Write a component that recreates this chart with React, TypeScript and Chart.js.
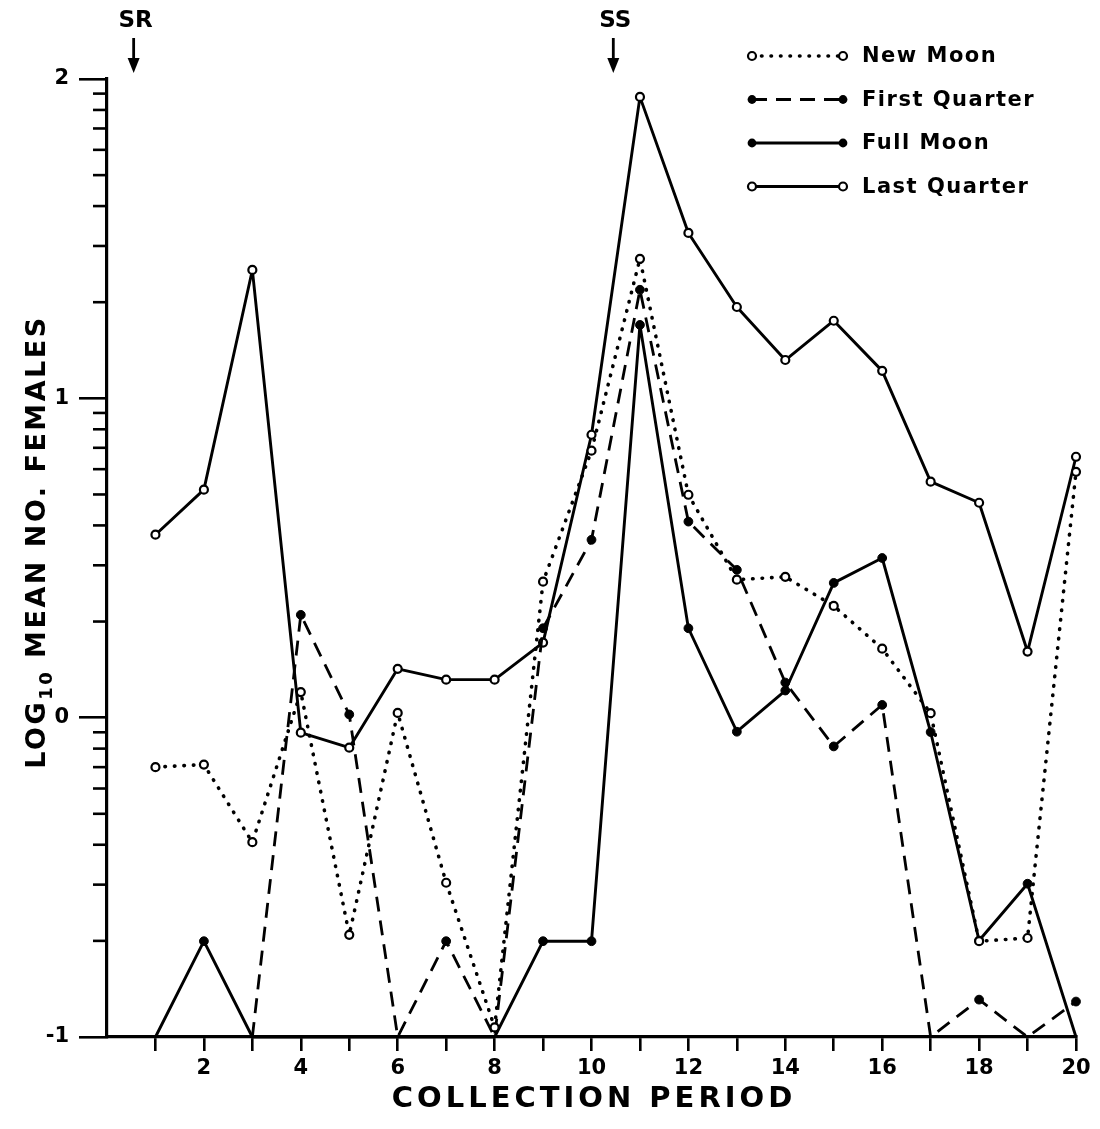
import React, { useEffect, useRef } from "react";
import { Chart, registerables } from "chart.js";

Chart.register(...registerables);

// Collection periods through one day (SR = sunrise, SS = sunset)
const periods = [1, 2, 3, 4, 5, 6, 7, 8, 9, 10, 11, 12, 13, 14, 15, 16, 17, 18, 19, 20];

// log10 of the mean number of females caught per period, by lunar phase
const newMoon = [-0.155, -0.147, -0.39, 0.08, -0.68, 0.015, -0.517, -0.97, 0.426, 0.836, 1.437, 0.698, 0.432, 0.441, 0.35, 0.216, 0.014, -0.7, -0.69, 0.77];
const firstQuarter = [null, null, -1, 0.322, 0.01, -1, -0.7, -1, 0.28, 0.557, 1.34, 0.614, 0.463, 0.11, -0.09, 0.04, -1, -0.883, -1, -0.889];
const fullMoon = [-1, -0.7, -1, -1, -1, -1, -1, -1, -0.7, -0.7, 1.23, 0.28, -0.044, 0.085, 0.422, 0.5, -0.045, -0.698, -0.52, -1];
const lastQuarter = [0.573, 0.714, 1.402, -0.047, -0.094, 0.153, 0.119, 0.119, 0.235, 0.886, 1.944, 1.518, 1.286, 1.12, 1.243, 1.086, 0.739, 0.673, 0.207, 0.817];

const seriesNames = ["New Moon", "First Quarter", "Full Moon", "Last Quarter"];

// Decade marks on the log axis
const yMajorTicks = [-1, 0, 1, 2];
const xTickValues = periods;

// Sunrise / sunset markers above the plot
const eventLabels = ["SR", "SS"];
const eventPeriods = [0.55, 10.45];

const FONT = '"DejaVu Sans", "Liberation Sans", sans-serif';
const INK = "#000";

type Style = {
  dash: number[];
  width: number;
  cap: CanvasLineCap;
  open: boolean;
  radius: number;
};

const styles: Style[] = [
  { dash: [0.5, 9], width: 3.6, cap: "round", open: true, radius: 4 },
  { dash: [15, 9], width: 2.8, cap: "butt", open: false, radius: 4.4 },
  { dash: [], width: 2.9, cap: "butt", open: false, radius: 4.4 },
  { dash: [], width: 2.9, cap: "butt", open: true, radius: 4 },
];

const seriesValues = [newMoon, firstQuarter, fullMoon, lastQuarter];

function toPoints(values: (number | null)[]) {
  return periods.map((p, i) => ({ x: p, y: values[i] }));
}

function drawMarker(ctx: CanvasRenderingContext2D, x: number, y: number, s: Style) {
  ctx.save();
  ctx.setLineDash([]);
  ctx.beginPath();
  ctx.arc(x, y, s.radius, 0, Math.PI * 2);
  if (s.open) {
    ctx.fillStyle = "#fff";
    ctx.fill();
    ctx.lineWidth = 2.2;
    ctx.strokeStyle = INK;
    ctx.stroke();
  } else {
    ctx.fillStyle = INK;
    ctx.fill();
  }
  ctx.restore();
}

const decorPlugin = {
  id: "moonDecor",
  afterDraw(chart: any) {
    const ctx: CanvasRenderingContext2D = chart.ctx;
    const xs = chart.scales.x;
    const ys = chart.scales.y;
    const left = chart.chartArea.left;

    ctx.save();
    ctx.strokeStyle = INK;
    ctx.fillStyle = INK;

    // minor log ticks (2..9 within each decade)
    ctx.lineWidth = 2.6;
    for (let d = -1; d < 2; d++) {
      for (let k = 2; k <= 9; k++) {
        const py = ys.getPixelForValue(d + Math.log10(k));
        ctx.beginPath();
        ctx.moveTo(left - 14, py);
        ctx.lineTo(left, py);
        ctx.stroke();
      }
    }

    // legend
    const lx0 = 752;
    const lx1 = 843;
    seriesNames.forEach((name, i) => {
      const s = styles[i];
      const ry = 56 + i * 43.5;
      ctx.save();
      ctx.lineWidth = s.width;
      ctx.lineCap = s.cap;
      ctx.setLineDash(s.dash);
      ctx.beginPath();
      ctx.moveTo(lx0, ry);
      ctx.lineTo(lx1, ry);
      ctx.stroke();
      ctx.restore();
      drawMarker(ctx, lx0, ry, s);
      drawMarker(ctx, lx1, ry, s);
      ctx.save();
      ctx.font = `bold 21px ${FONT}`;
      (ctx as any).letterSpacing = "1.5px";
      ctx.textAlign = "left";
      ctx.textBaseline = "middle";
      ctx.fillText(name, 862, ry + 1);
      ctx.restore();
    });

    // SR / SS arrows
    eventLabels.forEach((label, i) => {
      const px = xs.getPixelForValue(eventPeriods[i]);
      ctx.save();
      ctx.font = `bold 23px ${FONT}`;
      (ctx as any).letterSpacing = "0px";
      ctx.textAlign = "center";
      ctx.textBaseline = "middle";
      ctx.fillText(label, px + 2, 21);
      ctx.restore();
      ctx.lineWidth = 2.8;
      ctx.beginPath();
      ctx.moveTo(px, 38);
      ctx.lineTo(px, 62);
      ctx.stroke();
      ctx.beginPath();
      ctx.moveTo(px - 6, 58);
      ctx.lineTo(px + 6, 58);
      ctx.lineTo(px, 73);
      ctx.closePath();
      ctx.fill();
    });

    // y axis title with subscript
    ctx.save();
    ctx.translate(38, 542);
    ctx.rotate(-Math.PI / 2);
    ctx.textBaseline = "middle";
    ctx.textAlign = "left";
    const big = `bold 27px ${FONT}`;
    const small = `bold 18px ${FONT}`;
    const parts: [string, string, number][] = [
      ["LOG", big, 0],
      ["10", small, 9],
      [" MEAN NO. FEMALES", big, 0],
    ];
    let total = 0;
    const widths: number[] = [];
    parts.forEach(([t, f]) => {
      ctx.font = f;
      (ctx as any).letterSpacing = "2.5px";
      const w = ctx.measureText(t).width;
      widths.push(w);
      total += w;
    });
    let cx = -total / 2;
    parts.forEach(([t, f, dy], i) => {
      ctx.font = f;
      (ctx as any).letterSpacing = "2.5px";
      ctx.fillText(t, cx, dy);
      cx += widths[i];
    });
    ctx.restore();

    // x axis title
    ctx.save();
    ctx.font = `bold 29px ${FONT}`;
    (ctx as any).letterSpacing = "4px";
    ctx.textAlign = "center";
    ctx.textBaseline = "middle";
    ctx.fillText("COLLECTION PERIOD", 594, 1099);
    ctx.restore();

    ctx.restore();
  },
};

export default function App() {
  const canvasRef = useRef<HTMLCanvasElement | null>(null);

  useEffect(() => {
    const canvas = canvasRef.current;
    if (!canvas) return;

    const datasets = seriesNames.map((name, i) => {
      const s = styles[i];
      return {
        label: name,
        data: toPoints(seriesValues[i]),
        borderColor: INK,
        borderWidth: s.width,
        borderDash: s.dash,
        borderCapStyle: s.cap,
        borderJoinStyle: "round" as CanvasLineJoin,
        tension: 0,
        spanGaps: false,
        clip: false as any,
        pointStyle: "circle" as const,
        pointRadius: (c: any) => (c.raw && c.raw.y === -1 ? 0 : s.radius),
        pointHoverRadius: s.radius,
        pointBackgroundColor: s.open ? "#fff" : INK,
        pointBorderColor: INK,
        pointBorderWidth: s.open ? 2.2 : 1,
      };
    });

    const chart = new Chart(canvas, {
      type: "line",
      data: { datasets },
      options: {
        responsive: false,
        animation: false,
        devicePixelRatio: 1,
        layout: { padding: { left: 0, right: 24, top: 79, bottom: 0 } },
        plugins: {
          legend: { display: false },
          tooltip: { enabled: false },
          title: { display: false },
        },
        scales: {
          x: {
            type: "linear",
            min: 0,
            max: 20,
            afterFit: (s: any) => {
              s.height = 92;
            },
            afterBuildTicks: (s: any) => {
              s.ticks = xTickValues.map((v) => ({ value: v }));
            },
            grid: {
              drawOnChartArea: false,
              drawTicks: true,
              tickLength: 14,
              lineWidth: 2.6,
              color: INK,
            },
            border: { display: true, color: INK, width: 3.2 },
            ticks: {
              autoSkip: false,
              maxRotation: 0,
              padding: 5,
              color: INK,
              font: { family: FONT, size: 21, weight: "bold" },
              callback: (v: any) => (Number(v) % 2 === 0 ? String(v) : ""),
            },
          },
          y: {
            type: "linear",
            min: -1,
            max: 2,
            afterFit: (s: any) => {
              s.width = 107;
            },
            afterBuildTicks: (s: any) => {
              s.ticks = yMajorTicks.map((v) => ({ value: v }));
            },
            grid: {
              drawOnChartArea: false,
              drawTicks: true,
              tickLength: 28,
              lineWidth: 2.6,
              color: INK,
            },
            border: { display: true, color: INK, width: 3.2 },
            ticks: {
              padding: 10,
              color: INK,
              font: { family: FONT, size: 21, weight: "bold" },
              callback: (v: any) => String(v),
            },
          },
        },
      },
      plugins: [decorPlugin],
    });

    return () => chart.destroy();
  }, []);

  return (
    <div style={{ position: "fixed", left: 0, top: 0, width: 1100, height: 1129, background: "#fff" }}>
      <canvas ref={canvasRef} width={1100} height={1129} style={{ display: "block" }} />
    </div>
  );
}
